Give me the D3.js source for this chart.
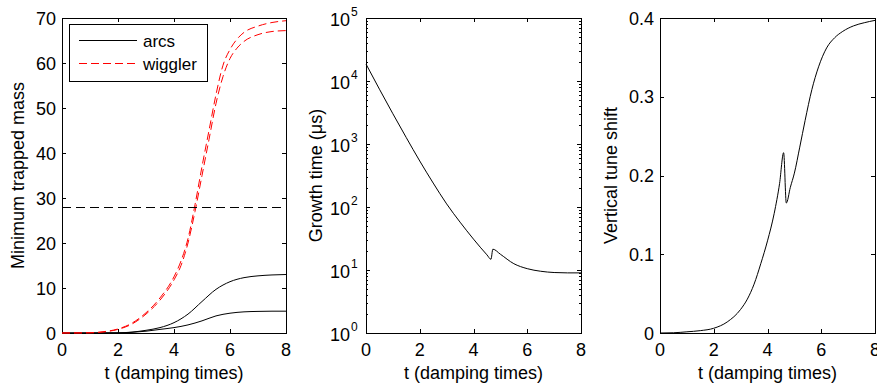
<!DOCTYPE html>
<html>
<head>
<meta charset="utf-8">
<script src="https://cdn.jsdelivr.net/npm/d3@7"></script>
<style>
  body { margin: 0; background: #fff; }
  svg { display: block; }
  text { font-family: "Liberation Sans", Arial, sans-serif; fill: #000; }
</style>
</head>
<body>
<div id="chart"></div>
<script>
// panel 1 : minimum trapped mass
var tMass = [0, 1, 1.5, 2, 2.5, 3, 3.5, 4, 4.25, 4.5, 4.75, 5, 5.25, 5.5, 5.75, 6, 6.25, 6.5, 7, 7.5, 8];
var wigglerA = [0, 0.05, 0.3, 0.9, 2.2, 4.5, 7.8, 12.5, 16, 21, 28.5, 37, 45, 53, 59.5, 63, 65.3, 66.8, 68.2, 69, 69.4];
var wigglerB = [0, 0.05, 0.25, 0.8, 2.0, 4.2, 7.3, 11.8, 15, 20, 27, 35, 43, 51, 57, 61, 63.3, 64.8, 66.3, 67, 67.2];
var tArcs = [0, 2, 2.5, 3, 3.5, 4, 4.5, 5, 5.5, 6, 6.5, 7, 7.5, 8];
var arcsA = [0, 0.05, 0.2, 0.6, 1.2, 2.3, 4.2, 7, 9.7, 11.4, 12.3, 12.7, 12.9, 13];
var arcsB = [0, 0.03, 0.15, 0.4, 0.8, 1.2, 1.8, 2.7, 3.8, 4.4, 4.7, 4.8, 4.85, 4.85];
var massThreshold = 28;

// panel 2 : growth time (us)
var tGrowth = [0, 0.5, 1, 1.5, 2, 2.5, 3, 3.5, 4, 4.5, 4.65, 4.72, 5, 5.5, 6, 6.5, 7, 7.5, 8];
var growth = [18600, 7410, 3020, 1260, 537, 240, 112, 57.5, 30.9, 17.4, 14.8, 21.4, 17.8, 12.6, 10.5, 9.55, 9.12, 9.0, 9.0];

// panel 3 : vertical tune shift
var tTune = [0, 0.5, 1, 1.5, 2, 2.5, 3, 3.25, 3.5, 3.75, 4, 4.25, 4.45, 4.6, 4.7, 4.85, 5, 5.2, 5.4, 5.65, 5.9, 6.2, 6.5, 6.8, 7.2, 7.6, 8];
var tune = [0, 0.0003, 0.0015, 0.003, 0.006, 0.014, 0.03, 0.043, 0.062, 0.088, 0.117, 0.152, 0.19, 0.229, 0.165, 0.185, 0.203, 0.236, 0.27, 0.309, 0.338, 0.362, 0.375, 0.383, 0.39, 0.394, 0.397];

var xTicks = [0, 2, 4, 6, 8];
var massTicks = [0, 10, 20, 30, 40, 50, 60, 70];
var growthTicks = [1, 10, 100, 1000, 10000, 100000];
var tuneTicks = [0, 0.1, 0.2, 0.3, 0.4];
var legendNames = ["arcs", "wiggler"];

var W = 877, H = 387;
var plotTop = 18, plotBottom = 333;

var svg = d3.select("#chart").append("svg")
	.attr("width", W)
	.attr("height", H);

function zip(xs, ys) {
	return xs.map(function(x, i) { return [x, ys[i]]; });
}

function makePanel(x0, x1, yScale, yLabel, yLabelX) {
	var x = d3.scaleLinear().domain([0, 8]).range([x0, x1]);
	var g = svg.append("g");

	g.append("rect")
		.attr("x", x0 + 0.5).attr("y", plotTop + 0.5)
		.attr("width", x1 - x0).attr("height", plotBottom - plotTop)
		.attr("fill", "none")
		.attr("stroke", "#000")
		.attr("stroke-width", 1);

	// x ticks inside, bottom and top
	xTicks.forEach(function(t) {
		var px = Math.round(x(t)) + 0.5;
		g.append("line").attr("x1", px).attr("x2", px)
			.attr("y1", plotBottom).attr("y2", plotBottom - 4).attr("stroke", "#000");
		g.append("line").attr("x1", px).attr("x2", px)
			.attr("y1", plotTop).attr("y2", plotTop + 4).attr("stroke", "#000");
		g.append("text")
			.attr("x", x(t)).attr("y", 356)
			.attr("text-anchor", "middle")
			.style("font-size", "18px")
			.text(t);
	});

	g.append("text")
		.attr("x", (x0 + x1) / 2).attr("y", 379)
		.attr("text-anchor", "middle")
		.style("font-size", "18px")
		.text("t (damping times)");

	g.append("text")
		.attr("transform", "translate(" + yLabelX + "," + ((plotTop + plotBottom) / 2) + ") rotate(-90)")
		.attr("text-anchor", "middle")
		.style("font-size", "18px")
		.text(yLabel);

	return { g: g, x: x, y: yScale, x0: x0, x1: x1 };
}

function yTickMarks(p, vals, len) {
	vals.forEach(function(v) {
		var py = Math.round(p.y(v)) + 0.5;
		p.g.append("line").attr("x1", p.x0).attr("x2", p.x0 + len)
			.attr("y1", py).attr("y2", py).attr("stroke", "#000");
		p.g.append("line").attr("x1", p.x1).attr("x2", p.x1 - len)
			.attr("y1", py).attr("y2", py).attr("stroke", "#000");
	});
}

function drawLine(p, data, color, dash) {
	var line = d3.line()
		.x(function(d) { return p.x(d[0]); })
		.y(function(d) { return p.y(d[1]); })
		.curve(d3.curveMonotoneX);
	p.g.append("path")
		.datum(data)
		.attr("d", line)
		.attr("fill", "none")
		.attr("stroke", color)
		.attr("stroke-width", 1)
		.attr("stroke-dasharray", dash || null);
}

// ---- panel 1
var y1 = d3.scaleLinear().domain([0, 70]).range([plotBottom, plotTop]);
var p1 = makePanel(62, 286, y1, "Minimum trapped mass", 24);
yTickMarks(p1, massTicks, 4);
massTicks.forEach(function(v) {
	p1.g.append("text")
		.attr("x", 56).attr("y", y1(v) + 6.5)
		.attr("text-anchor", "end")
		.style("font-size", "18px")
		.text(v);
});
drawLine(p1, zip(tArcs, arcsA), "#000");
drawLine(p1, zip(tArcs, arcsB), "#000");
drawLine(p1, zip(tMass, wigglerA), "#f00", "8,4");
drawLine(p1, zip(tMass, wigglerB), "#f00", "8,4");

// threshold line, kept on a pixel row so it stays crisp
var thrY = Math.round(y1(massThreshold)) + 0.5;
p1.g.append("line")
	.attr("x1", p1.x(0)).attr("x2", p1.x(8))
	.attr("y1", thrY).attr("y2", thrY)
	.attr("stroke", "#000")
	.attr("stroke-dasharray", "9,5");

// legend
var lg = p1.g.append("g");
lg.append("rect")
	.attr("x", 69.5).attr("y", 24.5)
	.attr("width", 138).attr("height", 57)
	.attr("fill", "#fff")
	.attr("stroke", "#000");
legendNames.forEach(function(name, i) {
	var ly = 40.5 + i * 23;
	lg.append("line")
		.attr("x1", 79).attr("x2", 137)
		.attr("y1", ly).attr("y2", ly)
		.attr("stroke", i == 0 ? "#000" : "#f00")
		.attr("stroke-dasharray", i == 0 ? null : "8,4");
	lg.append("text")
		.attr("x", 143).attr("y", ly + 6)
		.style("font-size", "17px")
		.text(name);
});

// ---- panel 2 (log)
var y2 = d3.scaleLog().domain([1, 100000]).range([plotBottom, plotTop]);
var p2 = makePanel(366, 581, y2, "Growth time (\u03bcs)", 322);
yTickMarks(p2, growthTicks, 4);
var minor = [];
for (var e = 0; e < 5; e++) {
	for (var m = 2; m < 10; m++) minor.push(m * Math.pow(10, e));
}
yTickMarks(p2, minor, 2);
growthTicks.forEach(function(v) {
	var ex = Math.round(Math.log10(v));
	p2.g.append("text")
		.attr("x", 350).attr("y", y2(v) + 8)
		.attr("text-anchor", "end")
		.style("font-size", "18px")
		.text("10");
	p2.g.append("text")
		.attr("x", 351).attr("y", y2(v) - 2)
		.style("font-size", "12px")
		.text(ex);
});
drawLine(p2, zip(tGrowth, growth), "#000");

// ---- panel 3
var y3 = d3.scaleLinear().domain([0, 0.4]).range([plotBottom, plotTop]);
var p3 = makePanel(660, 875, y3, "Vertical tune shift", 617);
yTickMarks(p3, tuneTicks, 4);
tuneTicks.forEach(function(v) {
	p3.g.append("text")
		.attr("x", 654).attr("y", y3(v) + 6.5)
		.attr("text-anchor", "end")
		.style("font-size", "18px")
		.text(v == 0 ? "0" : d3.format(".1f")(v));
});
drawLine(p3, zip(tTune, tune), "#000");
</script>
</body>
</html>
